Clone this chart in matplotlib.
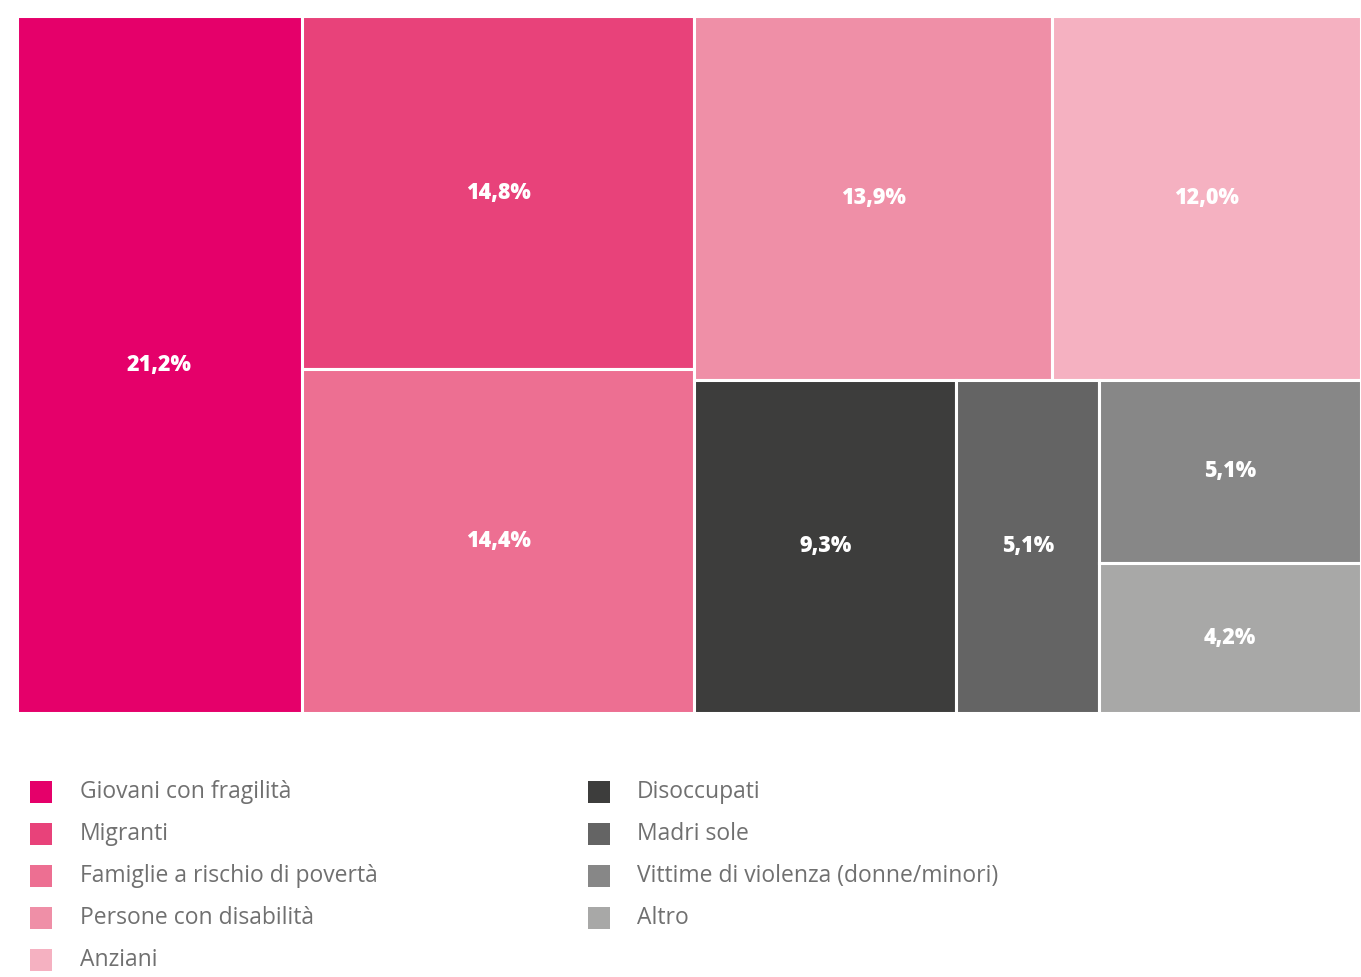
import matplotlib
matplotlib.use("Agg")
import matplotlib.pyplot as plt
from matplotlib.patches import Rectangle

#__________________________________________________________________
# Dati

categorie = [
    "Giovani con fragilità",
    "Migranti",
    "Famiglie a rischio di povertà",
    "Persone con disabilità",
    "Anziani",
    "Disoccupati",
    "Madri sole",
    "Vittime di violenza (donne/minori)",
    "Altro",
]
valori = [21.2, 14.8, 14.4, 13.9, 12.0, 9.3, 5.1, 5.1, 4.2]
colori = ["#E5006A", "#E8427A", "#ED6F92", "#EF8FA7", "#F5B1C1",
          "#3D3D3C", "#646464", "#878787", "#A8A8A7"]

# struttura del treemap (indici delle categorie, annidati)
struttura = [0, [1, 2], [[3, 4], [5, 6, [7, 8]]]]

#__________________________________________________________________
# Layout del treemap

def somma(nodo):
    if isinstance(nodo, list):
        return sum(somma(n) for n in nodo)
    return valori[nodo]

def dividi(nodo, x, y, w, h, orizzontale, out):
    if not isinstance(nodo, list):
        out.append((nodo, x, y, w, h))
        return
    tot = somma(nodo)
    pos = 0.0
    for figlio in nodo:
        frac = somma(figlio) / tot
        if orizzontale:
            dividi(figlio, x + pos * w, y, frac * w, h, False, out)
        else:
            # dall'alto verso il basso
            dividi(figlio, x, y + h - (pos + frac) * h, w, frac * h, True, out)
        pos += frac

celle = []
dividi(struttura, 0, 0, 1, 1, True, celle)

#__________________________________________________________________
# Grafica

W, H = 1361, 977
fig = plt.figure(figsize=(W / 100, H / 100), dpi=100)
ax = fig.add_axes([17 / W, (H - 713) / H, (1361 - 17) / W, (713 - 16) / H])
ax.set_xlim(0, 1)
ax.set_ylim(0, 1)
ax.axis("off")

for i, x, y, w, h in celle:
    ax.add_patch(Rectangle((x, y), w, h, facecolor=colori[i],
                           edgecolor="white", linewidth=2.2))
    etichetta = f"{valori[i]:.1f}%".replace(".", ",")
    ax.text(x + w / 2, y + h / 2, etichetta, ha="center", va="center",
            color="white", fontsize=15.5, fontweight="heavy", family="Open Sans")

# legenda
for k, (nome, col) in enumerate(zip(categorie, colori)):
    c = k // 5
    r = k % 5
    x0 = [30, 588][c]
    xt = [80, 637][c]
    yc = 792 + r * 42
    fig.patches.append(Rectangle((x0 / W, 1 - (yc + 11) / H), 22 / W, 22 / H,
                                 facecolor=col, edgecolor="none",
                                 transform=fig.transFigure, figure=fig))
    fig.text(xt / W, 1 - yc / H, nome, ha="left", va="center",
             fontsize=16.5, color="#707070", family="Open Sans")

fig.savefig("out.png", dpi=100)
